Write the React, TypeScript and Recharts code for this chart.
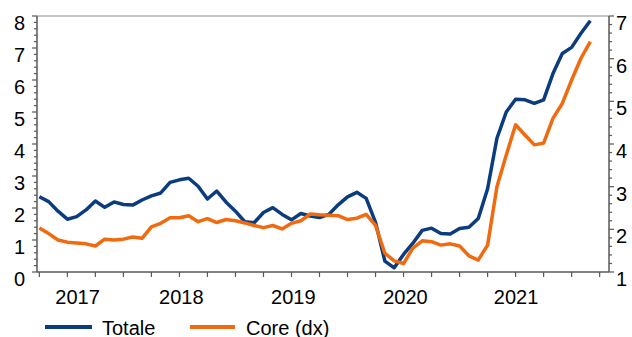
import React from 'react';
import { LineChart, Line, XAxis, YAxis, Legend, ReferenceLine } from 'recharts';

// Monthly observations, Mar 2017 – Feb 2022
const months = [
  '2017-03', '2017-04', '2017-05', '2017-06', '2017-07', '2017-08', '2017-09', '2017-10', '2017-11', '2017-12',
  '2018-01', '2018-02', '2018-03', '2018-04', '2018-05', '2018-06', '2018-07', '2018-08', '2018-09', '2018-10', '2018-11', '2018-12',
  '2019-01', '2019-02', '2019-03', '2019-04', '2019-05', '2019-06', '2019-07', '2019-08', '2019-09', '2019-10', '2019-11', '2019-12',
  '2020-01', '2020-02', '2020-03', '2020-04', '2020-05', '2020-06', '2020-07', '2020-08', '2020-09', '2020-10', '2020-11', '2020-12',
  '2021-01', '2021-02', '2021-03', '2021-04', '2021-05', '2021-06', '2021-07', '2021-08', '2021-09', '2021-10', '2021-11', '2021-12',
  '2022-01', '2022-02',
];

// Headline inflation, % y/y (left axis)
const totale = [
  2.35, 2.2, 1.9, 1.65, 1.73, 1.94, 2.22, 2.02, 2.19, 2.11,
  2.09, 2.25, 2.38, 2.47, 2.8, 2.88, 2.93, 2.68, 2.28, 2.53, 2.18, 1.9,
  1.57, 1.54, 1.86, 2.01, 1.8, 1.63, 1.83, 1.75, 1.7, 1.8, 2.1, 2.35,
  2.49, 2.3, 1.55, 0.34, 0.13, 0.55, 0.9, 1.3, 1.37, 1.2, 1.19, 1.36,
  1.4, 1.67, 2.6, 4.18, 5.0, 5.4, 5.38, 5.27, 5.38, 6.2, 6.83, 7.02,
  7.46, 7.85,
];

// Core inflation, % y/y (right axis)
const core = [
  2.03, 1.9, 1.75, 1.7, 1.68, 1.66, 1.61, 1.77, 1.75, 1.77,
  1.82, 1.79, 2.06, 2.14, 2.27, 2.27, 2.32, 2.18, 2.25, 2.16, 2.23, 2.2,
  2.15, 2.09, 2.04, 2.09, 2.01, 2.14, 2.2, 2.36, 2.34, 2.33, 2.32, 2.23,
  2.26, 2.35, 2.09, 1.44, 1.26, 1.2, 1.56, 1.73, 1.71, 1.63, 1.66, 1.61,
  1.38, 1.28, 1.63, 3.0, 3.74, 4.45, 4.21, 3.98, 4.02, 4.6, 4.95, 5.5,
  6.01, 6.4,
];

// Year labels sit mid-year; offsets keep them distinct from the quarter tick values
const yearLabels = ['2017', '2018', '2019', '2020', '2021'];
const yearLabelIndex = [4.1, 15.2, 27.2, 39.2, 51.05];
const quarterTickIndex = Array.from({ length: 21 }, (_, i) => i * 3);

const leftTicks = Array.from({ length: 41 }, (_, i) => Math.round(i * 2) / 10);
const rightTicks = Array.from({ length: 31 }, (_, i) => Math.round(10 + i * 2) / 10);

const data = months.map((m, i) => ({ idx: i, month: m, totale: totale[i], core: core[i] }));

const BLUE = '#0B3C7D';
const ORANGE = '#F06A10';
const AXIS = '#595959';
const FONT = '"Liberation Sans", Arial, sans-serif';

const isInt = (v: number) => Math.abs(v - Math.round(v)) < 1e-6;

function LeftTick(props: any) {
  const { x, y, payload } = props;
  const v = payload.value as number;
  const major = isInt(v);
  return (
    <g>
      <line x1={x - (major ? 5 : 3)} x2={x} y1={y} y2={y} stroke={AXIS} strokeWidth={1.2} />
      {major && (
        <text x={x - 12} y={y + 14} textAnchor="end" fontSize={20} fontFamily={FONT} fill="#000">
          {Math.round(v)}
        </text>
      )}
    </g>
  );
}

function RightTick(props: any) {
  const { x, y, payload } = props;
  const v = payload.value as number;
  const major = isInt(v);
  return (
    <g>
      <line x1={x} x2={x + (major ? 5 : 3)} y1={y} y2={y} stroke={AXIS} strokeWidth={1.2} />
      {major && (
        <text x={x + 7} y={y + 14} textAnchor="start" fontSize={20} fontFamily={FONT} fill="#000">
          {Math.round(v)}
        </text>
      )}
    </g>
  );
}

function BottomTick(props: any) {
  const { x, y, payload } = props;
  const v = payload.value as number;
  const li = yearLabelIndex.indexOf(v);
  if (li >= 0) {
    return (
      <text x={x} y={y + 32} textAnchor="middle" fontSize={20} fontFamily={FONT} fill="#000">
        {yearLabels[li]}
      </text>
    );
  }
  return <line x1={x} x2={x} y1={y} y2={y + 5} stroke={AXIS} strokeWidth={1.2} />;
}

function LegendContent() {
  return (
    <svg width={632} height={25} style={{ display: 'block', overflow: 'visible' }}>
      <line x1={45} x2={92} y1={15} y2={15} stroke={BLUE} strokeWidth={4} />
      <text x={102} y={23} fontSize={20} fontFamily={FONT} fill="#000">Totale</text>
      <line x1={190} x2={235} y1={15} y2={15} stroke={ORANGE} strokeWidth={4} />
      <text x={246} y={23} fontSize={20} fontFamily={FONT} fill="#000">Core (dx)</text>
    </svg>
  );
}

export default function App() {
  return (
    <div style={{ position: 'absolute', left: 0, top: 0 }}>
      <LineChart width={632} height={337} data={data} margin={{ top: 16, right: 0, left: 0, bottom: 0 }}>
        <XAxis
          dataKey="idx"
          type="number"
          domain={[-0.25, 61]}
          ticks={[...quarterTickIndex, ...yearLabelIndex]}
          interval={0}
          height={40}
          tickSize={0}
          tickMargin={0}
          tickLine={false}
          axisLine={{ stroke: AXIS, strokeWidth: 1.5 }}
          tick={<BottomTick />}
          allowDataOverflow
        />
        <YAxis
          yAxisId="left"
          orientation="left"
          domain={[0, 8]}
          ticks={leftTicks}
          interval={0}
          width={37}
          tickSize={0}
          tickMargin={0}
          tickLine={false}
          axisLine={{ stroke: AXIS, strokeWidth: 1.5 }}
          tick={<LeftTick />}
          allowDataOverflow
        />
        <YAxis
          yAxisId="right"
          orientation="right"
          domain={[1, 7]}
          ticks={rightTicks}
          interval={0}
          width={23}
          tickSize={0}
          tickMargin={0}
          tickLine={false}
          axisLine={{ stroke: AXIS, strokeWidth: 1.5 }}
          tick={<RightTick />}
          allowDataOverflow
        />
        <ReferenceLine yAxisId="left" y={8} stroke="#8c8c8c" strokeWidth={1.2} />
        <Line
          yAxisId="left"
          dataKey="totale"
          name="Totale"
          stroke={BLUE}
          strokeWidth={3.5}
          dot={false}
          strokeLinejoin="round"
          isAnimationActive={false}
        />
        <Line
          yAxisId="right"
          dataKey="core"
          name="Core (dx)"
          stroke={ORANGE}
          strokeWidth={3.5}
          dot={false}
          strokeLinejoin="round"
          isAnimationActive={false}
        />
        <Legend
          verticalAlign="bottom"
          content={<LegendContent />}
          wrapperStyle={{ left: 0, top: 312, width: 632, height: 25 }}
        />
      </LineChart>
    </div>
  );
}
